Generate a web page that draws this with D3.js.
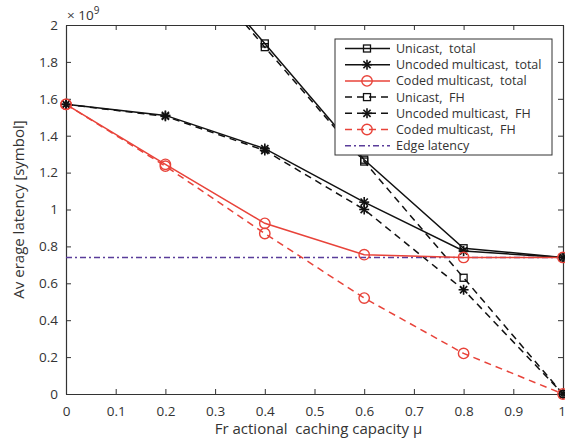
<!DOCTYPE html>
<html><head><meta charset="utf-8">
<script src="https://cdn.jsdelivr.net/npm/d3@7"></script>
<style>body{margin:0;background:#fff}svg{display:block}text{font-family:"Open Sans",sans-serif;fill:#333}</style>
</head><body>
<svg id="c" width="565" height="439"></svg>
<script>
const mu = [0, 0.2, 0.4, 0.6, 0.8, 1.0];
const unicastTotal = [3.14, 2.52, 1.90, 1.27, 0.79, 0.74];
const uncodedTotal = [1.57, 1.51, 1.33, 1.04, 0.775, 0.74];
const codedTotal = [1.57, 1.245, 0.925, 0.755, 0.74, 0.74];
const unicastFH = [3.14, 2.51, 1.88, 1.26, 0.63, 0];
const uncodedFH = [1.57, 1.505, 1.32, 1.0, 0.565, 0];
const codedFH = [1.57, 1.235, 0.87, 0.52, 0.22, 0];
const edgeLatency = [0.74, 0.74];
const edgeMu = [0, 1];
const xTicks = [0,0.1,0.2,0.3,0.4,0.5,0.6,0.7,0.8,0.9,1];
const yTicks = [0,0.2,0.4,0.6,0.8,1,1.2,1.4,1.6,1.8,2];
const seriesNames = ["Unicast,  total","Uncoded multicast,  total","Coded multicast,  total","Unicast,  FH","Uncoded multicast,  FH","Coded multicast,  FH","Edge latency"];

const RED = "#e8433a", BLACK = "#111", BLUE = "#5a3d9a";
const series = [
  {name: seriesNames[0], x: mu, y: unicastTotal, color: BLACK, dash: null, marker: "square"},
  {name: seriesNames[1], x: mu, y: uncodedTotal, color: BLACK, dash: null, marker: "star"},
  {name: seriesNames[2], x: mu, y: codedTotal, color: RED, dash: null, marker: "circle"},
  {name: seriesNames[3], x: mu, y: unicastFH, color: BLACK, dash: "7,5", marker: "square"},
  {name: seriesNames[4], x: mu, y: uncodedFH, color: BLACK, dash: "7,5", marker: "star"},
  {name: seriesNames[5], x: mu, y: codedFH, color: RED, dash: "7,5", marker: "circle"},
  {name: seriesNames[6], x: edgeMu, y: edgeLatency, color: BLUE, dash: "6,3,2,3", marker: null}
];

const svg = d3.select("#c");
const L = 66, R = 563, T = 25, B = 394;
const x = d3.scaleLinear().domain([0,1]).range([L,R]);
const y = d3.scaleLinear().domain([0,2]).range([B,T]);

svg.append("defs").append("clipPath").attr("id","clip")
  .append("rect").attr("x",L-6).attr("y",T).attr("width",R-L+12).attr("height",B-T+6);

const fmt = d => String(d);
const ax = svg.append("g").attr("transform",`translate(0,${B})`)
  .call(d3.axisBottom(x).tickValues(xTicks).tickFormat(fmt).tickSizeInner(-5).tickSizeOuter(0).tickPadding(12));
const ay = svg.append("g").attr("transform",`translate(${L},0)`)
  .call(d3.axisLeft(y).tickValues(yTicks).tickFormat(fmt).tickSizeInner(-5).tickSizeOuter(0).tickPadding(8));
const axt = svg.append("g").attr("transform",`translate(0,${T})`)
  .call(d3.axisTop(x).tickValues(xTicks).tickFormat("").tickSizeInner(-5).tickSizeOuter(0));
const ayr = svg.append("g").attr("transform",`translate(${R},0)`)
  .call(d3.axisRight(y).tickValues(yTicks).tickFormat("").tickSizeInner(-5).tickSizeOuter(0));
[ax,ay,axt,ayr].forEach(g=>{
  g.selectAll("path").attr("stroke","#333").attr("stroke-width",1.2);
  g.selectAll("line").attr("stroke","#333");
  g.selectAll("text").style("font-family","'Open Sans',sans-serif").style("font-size","13.5px").attr("fill","#333");
});
// keep last x tick label inside the window
ax.selectAll(".tick").filter(d=>d===1).select("text").attr("dx","-1.5");

const plot = svg.append("g").attr("clip-path","url(#clip)");

function drawMarker(g, type, cx, cy, color){
  if(type==="square"){
    g.append("rect").attr("x",cx-3.5).attr("y",cy-3.5).attr("width",7).attr("height",7)
      .attr("fill","none").attr("stroke",color).attr("stroke-width",1.3);
  } else if(type==="circle"){
    g.append("circle").attr("cx",cx).attr("cy",cy).attr("r",5.2)
      .attr("fill","none").attr("stroke",color).attr("stroke-width",1.4);
  } else if(type==="star"){
    const r=5;
    const segs=[[0,r],[r,0],[r*0.72,r*0.72],[r*0.72,-r*0.72]];
    segs.forEach(([dx,dy])=>g.append("line").attr("x1",cx-dx).attr("y1",cy-dy).attr("x2",cx+dx).attr("y2",cy+dy)
      .attr("stroke",color).attr("stroke-width",1.6));
  }
}

const line = d3.line();
const order = [6,3,4,5,0,1,2];
order.forEach(i=>{
  const s = series[i];
  const pts = s.x.map((v,j)=>[x(v), y(s.y[j])]);
  plot.append("path").attr("d", line(pts)).attr("fill","none").attr("stroke",s.color)
    .attr("stroke-width",1.5).attr("stroke-dasharray",s.dash);
});
order.forEach(i=>{
  const s = series[i];
  if(!s.marker) return;
  s.x.forEach((v,j)=>{ if(s.y[j] <= 2.02) drawMarker(plot, s.marker, x(v), y(s.y[j]), s.color); });
});

// legend
const lg = svg.append("g");
lg.append("rect").attr("x",335).attr("y",39).attr("width",217).attr("height",116)
  .attr("fill","#fff").attr("stroke","#333").attr("stroke-width",1);
series.forEach((s,i)=>{
  const cy = 48.5 + i*16.2;
  lg.append("line").attr("x1",345).attr("x2",390).attr("y1",cy).attr("y2",cy)
    .attr("stroke",s.color).attr("stroke-width",1.5).attr("stroke-dasharray",s.dash);
  if(s.marker) drawMarker(lg, s.marker, 367, cy, s.color);
  lg.append("text").attr("x",396).attr("y",cy+4.5).text(s.name)
    .style("font-size","12.5px").attr("xml:space","preserve");
});

// labels
svg.append("text").attr("x",67).attr("y",20).style("font-size","13.5px").html("× 10<tspan dy='-6' font-size='10px'>9</tspan>");
svg.append("text").attr("x",(L+R)/2 + 4).attr("y",434).attr("text-anchor","middle").style("font-size","15px")
  .attr("xml:space","preserve").text("Fr actional  caching capacity μ");
svg.append("text").attr("transform",`translate(24,${(T+B)/2}) rotate(-90)`).attr("text-anchor","middle")
  .style("font-size","15px").attr("xml:space","preserve").text("Av erage latency [symbol]");
</script>
</body></html>
